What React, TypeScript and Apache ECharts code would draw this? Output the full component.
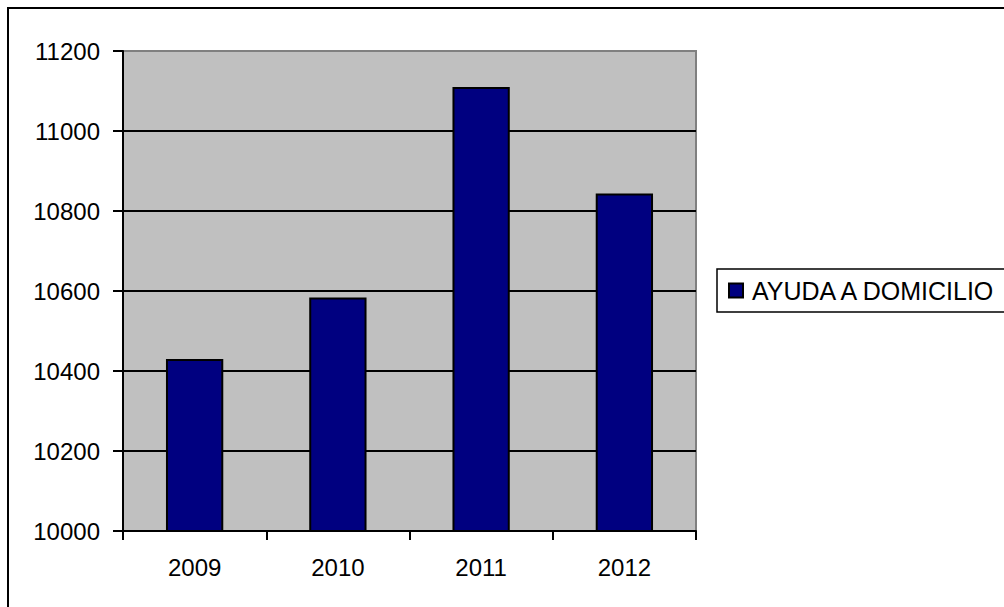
import React, { useEffect, useRef } from "react";
import * as echarts from "echarts";

const categories = ["2009", "2010", "2011", "2012"];
const seriesName = "AYUDA A DOMICILIO";
const values = [10430, 10584, 11110, 10844];
const yMin = 10000;
const yMax = 11200;
const yStep = 200;

const FONT = "'Liberation Sans', Arial, sans-serif";

export default function App() {
  const ref = useRef<HTMLDivElement>(null);
  useEffect(() => {
    if (!ref.current) return;
    const chart = echarts.init(ref.current, null, { renderer: "svg" });
    chart.setOption({
      animation: false,
      backgroundColor: "#ffffff",
      textStyle: { fontFamily: FONT },
      grid: {
        left: 123,
        top: 51,
        right: 308,
        bottom: 76,
        show: true,
        backgroundColor: "#C0C0C0",
        borderColor: "#808080",
        borderWidth: 2,
      },
      legend: {
        left: 717,
        top: 269,
        orient: "vertical",
        padding: [9, 40, 9, 11],
        borderColor: "#000",
        borderWidth: 1.5,
        itemWidth: 14,
        itemHeight: 14,
        icon: "rect",
        textStyle: { fontSize: 25, color: "#000", fontFamily: FONT, padding: [0, 0, 0, 4] },
        data: [seriesName],
      },
      xAxis: {
        type: "category",
        data: categories,
        axisLine: { lineStyle: { color: "#000", width: 2 } },
        axisTick: { show: true, length: 9, alignWithLabel: false, lineStyle: { color: "#000", width: 2 } },
        axisLabel: { fontSize: 24, color: "#000", margin: 24, fontFamily: FONT },
      },
      yAxis: {
        type: "value",
        min: yMin,
        max: yMax,
        interval: yStep,
        axisLine: { show: true, lineStyle: { color: "#000", width: 2 } },
        axisTick: { show: true, length: 10, lineStyle: { color: "#000", width: 2 } },
        axisLabel: {
          fontSize: 24,
          color: "#000",
          margin: 23,
          fontFamily: FONT,
          formatter: (v: number) => String(v),
        },
        splitLine: { show: true, showMaxLine: false, lineStyle: { color: "#000", width: 2 } },
      },
      series: [
        {
          name: seriesName,
          type: "bar",
          data: values,
          barWidth: "40%",
          itemStyle: { color: "#000080", borderColor: "#000", borderWidth: 2 },
        },
      ],
      graphic: [
        {
          type: "rect",
          shape: { x: 8, y: 8, width: 1100, height: 700 },
          style: { fill: "none", stroke: "#000", lineWidth: 2 },
          silent: true,
        },
      ],
    });
    return () => chart.dispose();
  }, []);
  return (
    <div
      ref={ref}
      style={{ position: "absolute", left: 0, top: 0, width: 1004, height: 607 }}
    />
  );
}
